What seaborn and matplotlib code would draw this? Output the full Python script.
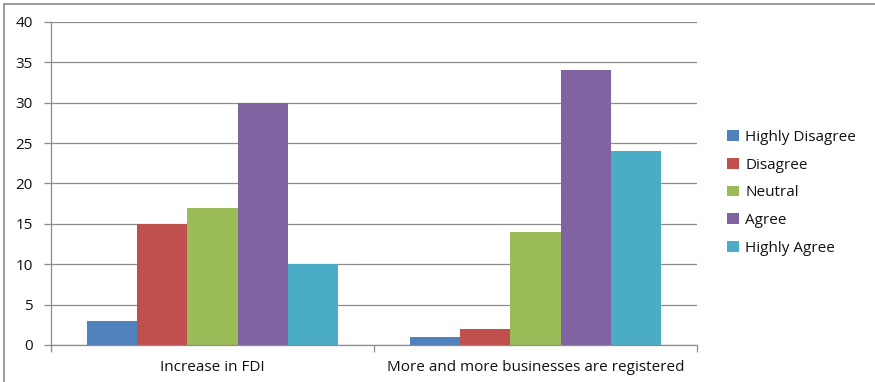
import matplotlib
matplotlib.use("Agg")
import matplotlib.pyplot as plt
from matplotlib.lines import Line2D
import seaborn as sns
import pandas as pd

categories = ["Increase in FDI", "More and more businesses are registered"]
responses = ["Highly Disagree", "Disagree", "Neutral", "Agree", "Highly Agree"]
increase_fdi = [3, 15, 17, 30, 10]
more_businesses = [1, 2, 14, 34, 24]
colors = ["#4F81BD", "#C0504D", "#9BBB59", "#8064A2", "#4BACC6"]

rows = []
for cat, vals in zip(categories, [increase_fdi, more_businesses]):
    for resp, v in zip(responses, vals):
        rows.append({"category": cat, "response": resp, "count": v})
df = pd.DataFrame(rows)

sns.set_style("white")
plt.rcParams["font.family"] = ["Open Sans", "DejaVu Sans"]

W, H = 875, 382
fig = plt.figure(figsize=(W / 100, H / 100), dpi=100)
ax = fig.add_axes([51 / W, 37 / H, (697 - 51) / W, (345 - 22) / H])

sns.barplot(data=df, x="category", y="count", hue="response", order=categories,
            hue_order=responses, palette=colors, width=0.775, gap=0,
            saturation=1, linewidth=0, ax=ax, legend=True)

grid_c = "#8C8C8C"
txt_c = "#111111"
ax.set_ylim(0, 40)
ax.set_xlim(-0.5, 1.5)
ax.set_yticks(range(0, 41, 5))
ax.yaxis.grid(True, color=grid_c, linewidth=0.9)
ax.set_axisbelow(True)
ax.set_xlabel("")
ax.set_ylabel("")
for s in ["top", "right"]:
    ax.spines[s].set_visible(False)
for s in ["left", "bottom"]:
    ax.spines[s].set_color(grid_c)
    ax.spines[s].set_linewidth(0.9)

ax.tick_params(axis="y", left=True, length=5, color=grid_c, width=0.9,
               labelsize=11, pad=8, labelcolor=txt_c)
ax.tick_params(axis="x", bottom=False, labelsize=11, pad=7, labelcolor=txt_c)
ax.set_xticks([-0.5, 0.5, 1.5], minor=True)
ax.tick_params(axis="x", which="minor", bottom=True, length=5, color=grid_c, width=0.9)

handles, labels = ax.get_legend_handles_labels()
ax.legend_.remove()
fig.legend(handles, labels, loc="center left", bbox_to_anchor=(713 / W, 1 - 193 / H),
           frameon=False, fontsize=11, handlelength=0.8, handleheight=0.7,
           handletextpad=0.4, labelspacing=0.83, labelcolor=txt_c)

# chart frame (top and left edges)
fig.add_artist(Line2D([4 / W, 1], [1 - 4 / H, 1 - 4 / H], color="#8C8C8C", linewidth=1.2))
fig.add_artist(Line2D([4 / W, 4 / W], [0, 1 - 4 / H], color="#8C8C8C", linewidth=1.2))

fig.savefig("out.png", dpi=100)
